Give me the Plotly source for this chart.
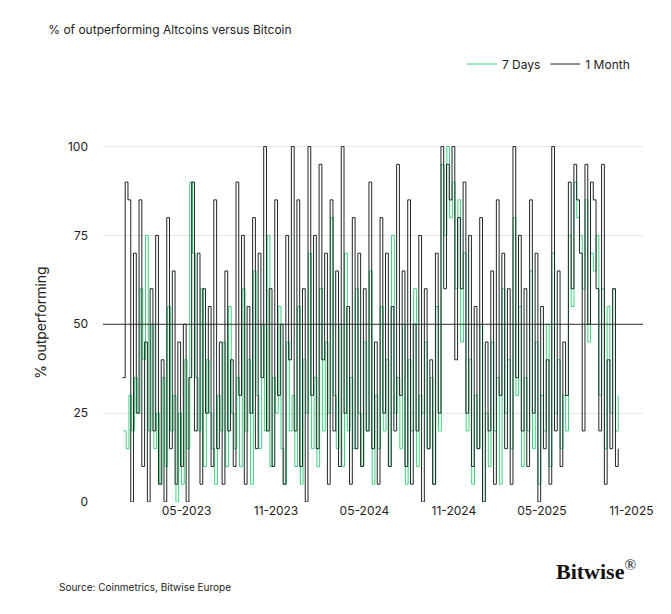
import pandas as pd
import plotly.graph_objects as go

# % of top altcoins outperforming BTC, sampled roughly every 5-6 days
month_pct = [35, 90, 85, 0, 70, 25, 85, 10, 45, 0, 60, 20, 75, 5, 40, 0, 80, 15, 65, 5,
             45, 10, 50, 0, 35, 90, 20, 70, 5, 60, 25, 55, 10, 85, 15, 45, 5, 65, 20, 40,
             10, 90, 30, 75, 5, 55, 25, 80, 15, 70, 35, 100, 20, 60, 10, 85, 30, 50, 5, 75,
             40, 100, 20, 85, 10, 60, 0, 100, 30, 75, 15, 95, 40, 70, 5, 85, 20, 65, 10, 100,
             25, 55, 5, 80, 15, 70, 10, 60, 20, 90, 15, 45, 5, 80, 25, 70, 10, 55, 20, 95,
             30, 65, 10, 85, 5, 50, 20, 75, 0, 60, 15, 40, 5, 70, 25, 100, 60, 95, 85, 100,
             40, 80, 60, 90, 25, 75, 10, 55, 15, 80, 0, 45, 20, 65, 5, 85, 30, 70, 15, 60,
             5, 100, 35, 75, 20, 60, 10, 85, 25, 70, 0, 55, 15, 40, 5, 100, 20, 65, 10, 45,
             30, 90, 60, 95, 85, 70, 20, 95, 50, 90, 85, 60, 20, 95, 5, 40, 15, 60, 10, 15]

week_pct = [20, 15, 30, 20, 35, 25, 60, 40, 75, 20, 50, 15, 25, 5, 35, 10, 55, 20, 30, 0,
            25, 5, 40, 15, 90, 70, 35, 20, 60, 10, 40, 25, 15, 5, 30, 20, 45, 10, 55, 25,
            15, 35, 10, 60, 20, 40, 5, 65, 30, 15, 50, 20, 75, 10, 35, 25, 55, 15, 5, 45,
            20, 30, 10, 55, 5, 40, 25, 70, 15, 35, 10, 60, 20, 45, 25, 80, 30, 15, 50, 10,
            70, 20, 35, 15, 60, 25, 10, 45, 20, 65, 5, 30, 15, 55, 20, 40, 10, 75, 25, 35,
            15, 50, 5, 40, 20, 60, 10, 30, 25, 45, 15, 35, 5, 55, 20, 95, 75, 100, 80, 90,
            60, 85, 45, 70, 20, 40, 5, 30, 15, 50, 0, 25, 10, 45, 20, 35, 5, 60, 25, 40,
            15, 80, 30, 55, 10, 35, 20, 65, 15, 45, 5, 30, 20, 50, 10, 70, 25, 40, 15, 30,
            20, 75, 55, 90, 80, 75, 60, 85, 45, 70, 65, 75, 30, 60, 15, 55, 25, 60, 20, 30]

month_dates = pd.date_range("2022-12-20", "2025-10-05", periods=len(month_pct))
week_dates = pd.date_range("2022-12-22", "2025-10-05", periods=len(week_pct))

tick_vals = ["2023-05-01", "2023-11-01", "2024-05-01", "2024-11-01", "2025-05-01", "2025-11-01"]
tick_text = ["05-2023", "11-2023", "05-2024", "11-2024", "05-2025", "11-2025"]

fig = go.Figure()
fig.add_trace(go.Scatter(x=week_dates, y=week_pct, name="7 Days", mode="lines",
                         line=dict(color="#3fd17f", width=1, shape="hv")))
fig.add_trace(go.Scatter(x=month_dates, y=month_pct, name="1 Month", mode="lines",
                         line=dict(color="#1e2626", width=1, shape="hv")))

fig.add_hline(y=50, line=dict(color="#333333", width=1))

fig.update_layout(
    width=671, height=614,
    paper_bgcolor="white", plot_bgcolor="white",
    font=dict(family="Inter, Roboto, sans-serif", size=12, color="#222222"),
    margin=dict(l=95, r=36, t=135, b=120),
    title=dict(text="% of outperforming Altcoins versus Bitcoin", x=0.06, xanchor="left",
               y=0.972, font=dict(size=12, color="#222222")),
    legend=dict(orientation="h", x=0.985, xanchor="right", y=1.22, yanchor="middle",
                font=dict(size=12), itemwidth=30),
    xaxis=dict(range=["2022-11-10", "2025-11-25"], tickvals=tick_vals, ticktext=tick_text,
               showgrid=False, zeroline=False, showline=False, ticks=""),
    yaxis=dict(range=[0, 101], tickvals=[0, 25, 50, 75, 100], showgrid=True,
               gridcolor="#e6e6e6", zeroline=False, ticks="", ticklabelstandoff=14,
               title=dict(text="% outperforming", standoff=18)),
    showlegend=True,
)

fig.add_annotation(text="Source: Coinmetrics, Bitwise Europe", xref="paper", yref="paper",
                   x=-0.085, y=-0.26, xanchor="left", showarrow=False, font=dict(size=10))
fig.add_annotation(text="<b>Bitwise</b><sup>®</sup>", xref="paper", yref="paper",
                   x=0.99, y=-0.235, xanchor="right", showarrow=False,
                   font=dict(size=22, family="Liberation Serif, DejaVu Serif, serif", color="#111111"))

fig.write_html("out.html")
